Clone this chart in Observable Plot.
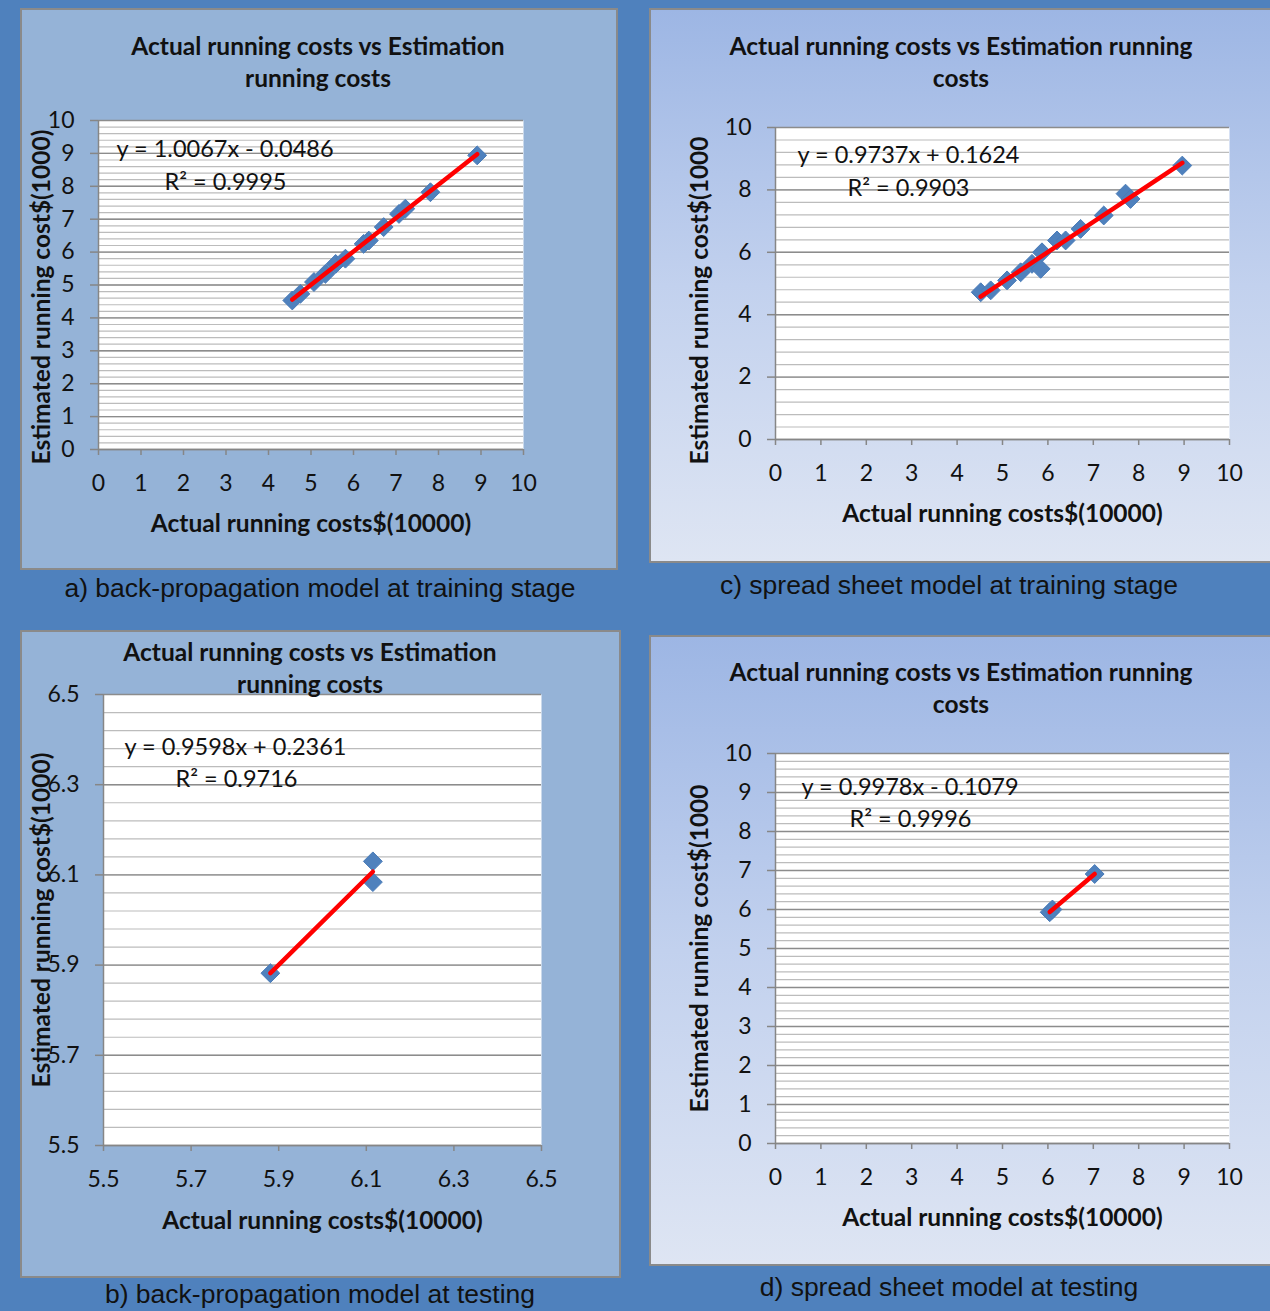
<!DOCTYPE html>
<html><head><meta charset="utf-8">
<script src="https://cdn.jsdelivr.net/npm/d3@7"></script>
<script src="https://cdn.jsdelivr.net/npm/@observablehq/plot@0.6"></script>
<style>
body{margin:0;}
#page{position:relative;width:1270px;height:1311px;background:#4F81BD;overflow:hidden;font-family:Lato,sans-serif;}
.panel{position:absolute;box-sizing:border-box;border:2px solid #8A8A8A;}
.title{position:absolute;text-align:center;font-weight:bold;font-size:24.5px;line-height:32px;color:#111;z-index:3;white-space:nowrap;}
.cap{position:absolute;text-align:center;font-family:"Liberation Sans",Arial,sans-serif;font-size:26.5px;line-height:30px;color:#111;white-space:nowrap;}
.plot{position:absolute;z-index:2;}
</style></head><body><div id="page"></div>
<script>
// ---------- data ----------
const titleShort = ["Actual running costs vs Estimation", "running costs"];
const titleLong = ["Actual running costs vs Estimation running", "costs"];
const xLabel = "Actual running costs$(10000)";
const yLabelA = "Estimated running cost$(1000)";
const yLabelC = "Estimated running cost$(1000";

const captions = [
  "a) back-propagation model at training stage",
  "c) spread sheet model at training stage",
  "b) back-propagation model at testing",
  "d) spread sheet model at testing"
];

// a) back-propagation, training
const actualA = [4.56, 4.75, 5.07, 5.34, 5.58, 5.81, 6.24, 6.36, 6.71, 7.07, 7.22, 7.81, 8.91];
const estA    = [4.53, 4.73, 5.09, 5.34, 5.64, 5.80, 6.25, 6.35, 6.76, 7.16, 7.32, 7.82, 8.94];
const eqA = ["y = 1.0067x - 0.0486", "R² = 0.9995"];

// c) spread sheet, training
const actualC = [4.52, 4.74, 5.10, 5.40, 5.65, 5.84, 5.87, 6.20, 6.39, 6.72, 7.23, 7.71, 7.82, 8.96];
const estC    = [4.72, 4.78, 5.10, 5.36, 5.63, 5.47, 6.00, 6.38, 6.38, 6.75, 7.18, 7.88, 7.71, 8.78];
const eqC = ["y = 0.9737x + 0.1624", "R² = 0.9903"];

// b) back-propagation, testing
const actualB = [5.881, 6.115, 6.115];
const estB    = [5.882, 6.130, 6.084];
const eqB = ["y = 0.9598x + 0.2361", "R² = 0.9716"];

// d) spread sheet, testing
const actualD = [6.04, 6.10, 7.03];
const estD    = [5.93, 6.00, 6.91];
const eqD = ["y = 0.9978x - 0.1079", "R² = 0.9996"];

// tick values
const ticks0to10 = [0, 1, 2, 3, 4, 5, 6, 7, 8, 9, 10];
const ticks0to10by2 = [0, 2, 4, 6, 8, 10];
const ticksB = [5.5, 5.7, 5.9, 6.1, 6.3, 6.5];

// ---------- drawing ----------
const page = document.getElementById("page");

function steps(a, b, s) {
  const n = Math.round((b - a) / s);
  return d3.range(n + 1).map(i => +(a + i * s).toFixed(4));
}

function addDiv(cls, left, top, width, height, html, extra) {
  const d = document.createElement("div");
  d.className = cls;
  d.style.left = left + "px"; d.style.top = top + "px";
  if (width != null) d.style.width = width + "px";
  if (height != null) d.style.height = height + "px";
  if (html != null) d.innerHTML = html;
  if (extra) Object.assign(d.style, extra);
  page.appendChild(d);
  return d;
}

function makePanel(c) {
  const [bx0, by0, bx1, by1] = c.box;
  addDiv("panel", bx0, by0, bx1 - bx0, by1 - by0, null, {background: c.bg});
  const [fx0, fy0, fx1, fy1] = c.frame;
  const W = bx1 - bx0, H = by1 - by0;
  const data = c.xs.map((x, i) => ({x, y: c.ys[i]}));
  const chart = Plot.plot({
    width: W, height: H,
    marginLeft: fx0 - bx0, marginTop: fy0 - by0,
    marginRight: bx1 - fx1, marginBottom: by1 - fy1,
    x: {domain: c.xDomain},
    y: {domain: c.yDomain},
    style: {fontFamily: "Lato, sans-serif", fontSize: "23px", background: "transparent", color: "black", overflow: "visible"},
    marks: [
      Plot.frame({fill: "white", stroke: null}),
      Plot.gridY(c.minorY, {stroke: "#bcbcbc", strokeOpacity: 1, strokeWidth: 1.2}),
      Plot.gridY(c.majorY, {stroke: "#8c8c8c", strokeOpacity: 1, strokeWidth: 1.4}),
      Plot.ruleX([c.xDomain[0]], {stroke: "#868686", strokeWidth: 1.5}),
      Plot.ruleY([c.yDomain[0]], {stroke: "#868686", strokeWidth: 1.5}),
      Plot.axisY(c.majorY, {tickSize: 8, tickPadding: 16, stroke: "#868686", strokeWidth: 1.5, fill: "#111", label: null, tickFormat: c.fmt, fontSize: 23}),
      Plot.axisX(c.majorX, {tickSize: 6, tickPadding: 19, stroke: "#868686", strokeWidth: 1.5, fill: "#111", label: null, tickFormat: c.fmt, fontSize: 23}),
      Plot.dot(data, {x: "x", y: "y", symbol: "diamond2", r: 8.5, fill: "#4F81BD", stroke: "#4A7CB8", strokeWidth: 1}),
      Plot.linearRegressionY(data, {x: "x", y: "y", stroke: "#FF0000", strokeWidth: 4.5, ci: 0}),
      Plot.text([c.eq[0]], {text: d => d, frameAnchor: "top-left", textAnchor: "start", lineAnchor: "middle", dx: c.eq1[0], dy: c.eq1[1], fontSize: 23.5, fill: "#111"}),
      Plot.text([c.eq[1]], {text: d => d, frameAnchor: "top-left", textAnchor: "start", lineAnchor: "middle", dx: c.eq2[0], dy: c.eq2[1], fontSize: 23.5, fill: "#111"}),
      Plot.text([xLabel], {text: d => d, frameAnchor: "bottom", textAnchor: "middle", lineAnchor: "middle", dy: c.xlabDy, fontSize: 24.5, fontWeight: "bold", fill: "#111"}),
      Plot.text([c.ylabel], {text: d => d, frameAnchor: "left", textAnchor: "middle", lineAnchor: "middle", rotate: -90, dx: c.ylab[0], dy: c.ylab[1], fontSize: 24.5, fontWeight: "bold", fill: "#111"})
    ]
  });
  chart.classList.add("plot");
  chart.style.position = "absolute";
  chart.style.left = bx0 + "px";
  chart.style.top = by0 + "px";
  page.appendChild(chart);
  // title
  const tw = 620;
  addDiv("title", c.titleCx - tw / 2, c.titleY - 16, tw, null, c.title.join("<br>"));
  // caption
  const cw = 720;
  addDiv("cap", c.capCx - cw / 2, c.capY - 15, cw, null, c.caption);
}

const lightBlue = "#95B3D7";
const gradBlue = "linear-gradient(180deg, #9DB6E4 0%, #C2D1EE 50%, #DEE5F3 100%)";

makePanel({
  box: [20, 8, 618, 570], bg: lightBlue,
  frame: [98, 120, 523, 449],
  xDomain: [0, 10], yDomain: [0, 10],
  majorX: ticks0to10, majorY: ticks0to10, minorY: steps(0, 10, 0.2),
  fmt: d3.format("d"),
  xs: actualA, ys: estA, eq: eqA, eq1: [18, 29], eq2: [66, 62],
  xlabDy: 75, ylabel: yLabelA, ylab: [-56, 12],
  title: titleShort, titleCx: 318, titleY: 46,
  caption: captions[0], capCx: 320, capY: 588
});

makePanel({
  box: [649, 8, 1274, 563], bg: gradBlue,
  frame: [775, 127, 1229, 439],
  xDomain: [0, 10], yDomain: [0, 10],
  majorX: ticks0to10, majorY: ticks0to10by2, minorY: steps(0, 10, 0.4),
  fmt: d3.format("d"),
  xs: actualC, ys: estC, eq: eqC, eq1: [22, 28], eq2: [72, 61],
  xlabDy: 75, ylabel: yLabelC, ylab: [-75, 17],
  title: titleLong, titleCx: 961, titleY: 46,
  caption: captions[1], capCx: 949, capY: 585
});

makePanel({
  box: [20, 630, 621, 1278], bg: lightBlue,
  frame: [103, 694, 541, 1145],
  xDomain: [5.5, 6.5], yDomain: [5.5, 6.5],
  majorX: ticksB, majorY: ticksB, minorY: steps(5.5, 6.5, 0.04),
  fmt: d3.format(".1f"),
  xs: actualB, ys: estB, eq: eqB, eq1: [21, 53], eq2: [72, 85],
  xlabDy: 76, ylabel: yLabelA, ylab: [-61, 0],
  title: titleShort, titleCx: 310, titleY: 652,
  caption: captions[2], capCx: 320, capY: 1294
});

makePanel({
  box: [649, 635, 1274, 1266], bg: gradBlue,
  frame: [775, 753, 1229, 1143],
  xDomain: [0, 10], yDomain: [0, 10],
  majorX: ticks0to10, majorY: ticks0to10, minorY: steps(0, 10, 0.2),
  fmt: d3.format("d"),
  xs: actualD, ys: estD, eq: eqD, eq1: [26, 34], eq2: [74, 66],
  xlabDy: 75, ylabel: yLabelC, ylab: [-75, 0],
  title: titleLong, titleCx: 961, titleY: 672,
  caption: captions[3], capCx: 949, capY: 1287
});
</script>
</body></html>
